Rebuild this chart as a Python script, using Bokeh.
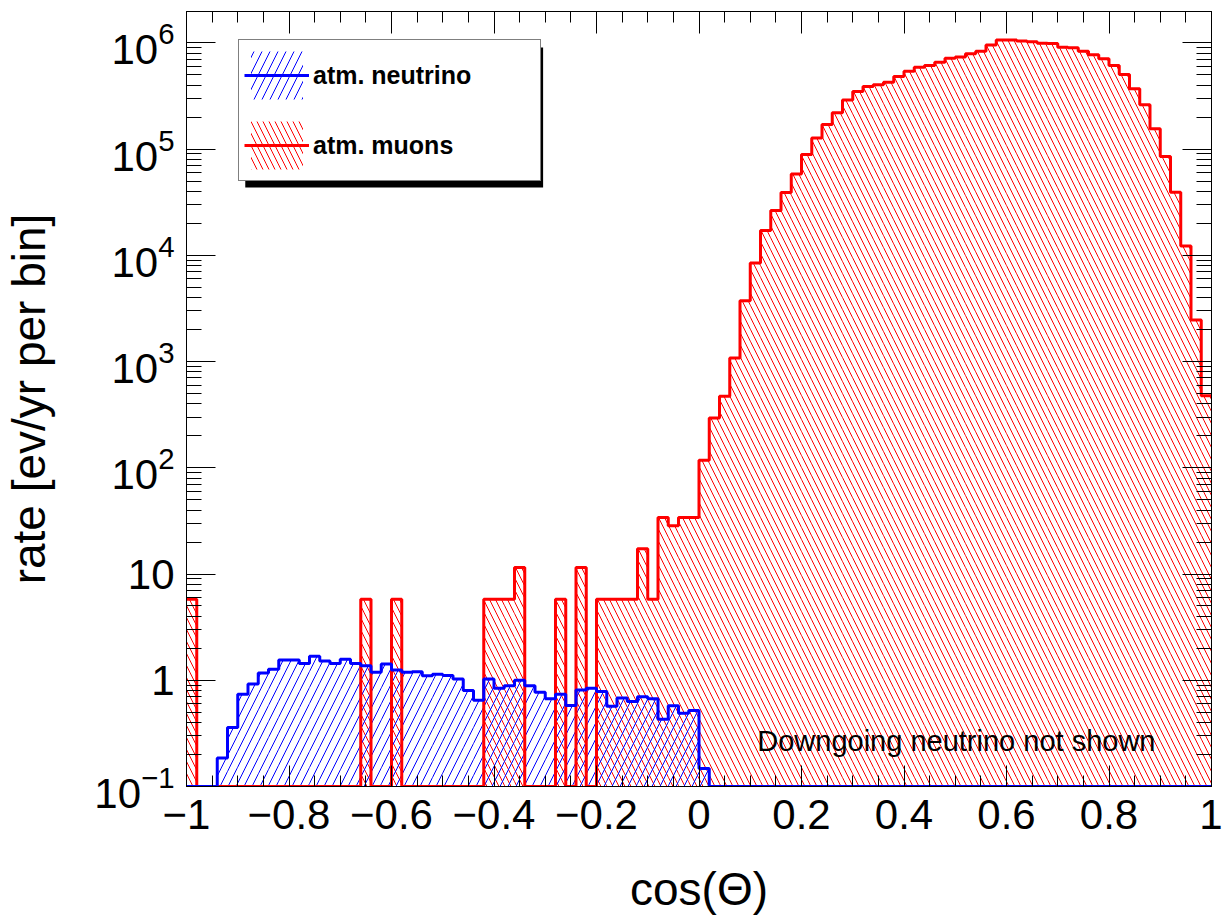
import numpy as np
from bokeh.plotting import figure
from bokeh.models import (Range1d, FixedTicker, LinearAxis, LogAxis, LogTickFormatter,
                          CustomJSTickFormatter, Legend, LegendItem, BoxAnnotation, Label,
                          ColumnDataSource)
from bokeh.embed import file_html
from bokeh.resources import INLINE

# ---------------- data ----------------
bin_low, bin_high, n_bins = -1.0, 1.0, 100

# atm. muons rate per bin (0.02 wide bins from -1 to 1)
muon_rate = [
    5.8, 0, 0, 0, 0, 0, 0, 0, 0, 0,
    0, 0, 0, 0, 0, 0, 0, 5.8, 0, 0,
    5.8, 0, 0, 0, 0, 0, 0, 0, 0, 5.8,
    5.8, 5.8, 11.5, 0, 0, 0, 5.8, 0, 11.5, 0,
    5.8, 5.8, 5.8, 5.8, 17.3, 5.8, 34, 28.5, 34, 34,
    118, 294, 470, 1080, 3740, 8480, 17100, 26400, 38900, 58300,
    88800, 127000, 170000, 219000, 290000, 348000, 387000, 402000, 425000, 481000,
    540000, 589000, 611000, 656000, 716000, 735000, 787000, 832000, 955000, 1060000,
    1060000, 1040000, 1020000, 990000, 985000, 908000, 900000, 832000, 771000, 708000,
    611000, 503000, 369000, 261000, 155000, 84900, 39200, 12200, 2460, 477,
]

# atm. neutrino rate per bin (downgoing not shown)
nu_rate = [
    0, 0, 0, 0.185, 0.36, 0.74, 0.92, 1.17, 1.27, 1.55,
    1.55, 1.44, 1.68, 1.52, 1.44, 1.58, 1.44, 1.37, 1.19, 1.42,
    1.25, 1.19, 1.20, 1.10, 1.14, 1.11, 1.03, 0.80, 0.65, 1.03,
    0.84, 0.89, 1.00, 0.89, 0.77, 0.67, 0.74, 0.58, 0.81, 0.84,
    0.785, 0.57, 0.68, 0.63, 0.70, 0.67, 0.43, 0.575, 0.49, 0.52,
    0.148, 0, 0, 0, 0, 0, 0, 0, 0, 0,
    0, 0, 0, 0, 0, 0, 0, 0, 0, 0,
    0, 0, 0, 0, 0, 0, 0, 0, 0, 0,
    0, 0, 0, 0, 0, 0, 0, 0, 0, 0,
    0, 0, 0, 0, 0, 0, 0, 0, 0, 0,
]

x_ticks = [-1, -0.8, -0.6, -0.4, -0.2, 0, 0.2, 0.4, 0.6, 0.8, 1]
x_tick_labels = ["\u22121", "\u22120.8", "\u22120.6", "\u22120.4", "\u22120.2", "0",
                 "0.2", "0.4", "0.6", "0.8", "1"]
y_ticks = [0.1, 1, 10, 100, 1000, 10000, 100000, 1000000]
y_plain_labels = {1: "1", 10: "10"}

legend_labels = ["atm. neutrino", "atm. muons"]
note_text = "Downgoing neutrino not shown"
x_title = "cos(\u0398)"
y_title = "rate [ev/yr per bin]"

# ---------------- layout ----------------
W, H = 1222, 920
FL, FR, FT, FB = 182, 1211, 11, 786
Y_MIN, Y_MAX = 0.1, 1.97e6
FONT = "Liberation Sans"


def data_x(px):
    return bin_low + (px - FL) / (FR - FL) * (bin_high - bin_low)


def data_y(py):
    lo, hi = np.log10(Y_MIN), np.log10(Y_MAX)
    return 10 ** (lo + (FB - py) / (FB - FT) * (hi - lo))


edges = np.linspace(bin_low, bin_high, n_bins + 1)
mu = np.array(muon_rate, dtype=float)
nu = np.array(nu_rate, dtype=float)
mu_disp = np.where(mu > 0, mu, Y_MIN)
nu_disp = np.where(nu > 0, nu, Y_MIN)

p = figure(width=W, height=H, x_range=Range1d(bin_low, bin_high),
           y_range=Range1d(Y_MIN, Y_MAX), y_axis_type="log",
           output_backend="svg", toolbar_location=None,
           min_border_left=FL, min_border_right=W - FR,
           min_border_top=FT, min_border_bottom=H - FB)
p.grid.visible = False
p.outline_line_color = "black"
p.outline_line_width = 1
p.background_fill_color = "white"
p.border_fill_color = "white"

# hatched areas
src_mu = ColumnDataSource(dict(left=edges[:-1], right=edges[1:], top=mu_disp,
                               bottom=np.full(n_bins, Y_MIN)))
src_nu = ColumnDataSource(dict(left=edges[:-1], right=edges[1:], top=nu_disp,
                               bottom=np.full(n_bins, Y_MIN)))
r_mu_fill = p.quad(left="left", right="right", top="top", bottom="bottom", source=src_mu,
                   fill_color=None, line_color=None, hatch_pattern="\\",
                   hatch_color="#ff0000", hatch_scale=12, hatch_weight=1)
r_nu_fill = p.quad(left="left", right="right", top="top", bottom="bottom", source=src_nu,
                   fill_color=None, line_color=None, hatch_pattern="/",
                   hatch_color="#0000ff", hatch_scale=16, hatch_weight=1)

# outlines
step_x = edges
r_mu_line = p.step(x=step_x, y=np.append(mu_disp, mu_disp[-1]), mode="after",
                   line_color="#ff0000", line_width=3)
r_nu_line = p.step(x=step_x, y=np.append(nu_disp, nu_disp[-1]), mode="after",
                   line_color="#0000ff", line_width=3)

# axes
x_minor = np.round(np.arange(bin_low, bin_high + 1e-9, 0.05), 3).tolist()
y_minor = [m * 10.0 ** k for k in range(-1, 7) for m in range(2, 10)]

xa = p.xaxis[0]
xa.ticker = FixedTicker(ticks=x_ticks, minor_ticks=x_minor)
xa.major_label_overrides = dict(zip(x_ticks, x_tick_labels))
xa.major_tick_in, xa.major_tick_out = 21, 0
xa.minor_tick_in, xa.minor_tick_out = 11, 0
xa.major_label_standoff = 13
xa.major_label_text_font = FONT
xa.major_label_text_font_size = "42px"
xa.major_label_text_color = "black"
xa.axis_label = x_title
xa.axis_label_text_font = FONT
xa.axis_label_text_font_size = "46px"
xa.axis_label_text_font_style = "normal"
xa.axis_label_text_color = "black"
xa.axis_label_standoff = 31
xa.axis_line_color = "black"
xa.major_tick_line_color = "black"
xa.minor_tick_line_color = "black"

ya = p.yaxis[0]
ya.ticker = FixedTicker(ticks=y_ticks, minor_ticks=y_minor)
ya.formatter = LogTickFormatter()
ya.major_label_overrides = y_plain_labels
ya.major_tick_in, ya.major_tick_out = 29, 0
ya.minor_tick_in, ya.minor_tick_out = 15, 0
ya.major_label_standoff = 12
ya.major_label_text_font = FONT
ya.major_label_text_font_size = "42px"
ya.major_label_text_color = "black"
ya.axis_label = y_title
ya.axis_label_text_font = FONT
ya.axis_label_text_font_size = "46px"
ya.axis_label_text_font_style = "normal"
ya.axis_label_text_color = "black"
ya.axis_label_standoff = 36
ya.axis_line_color = "black"
ya.major_tick_line_color = "black"
ya.minor_tick_line_color = "black"

blank = CustomJSTickFormatter(code="return ''")
top_axis = LinearAxis(ticker=FixedTicker(ticks=x_ticks, minor_ticks=x_minor), formatter=blank,
                      major_tick_in=22, major_tick_out=0, minor_tick_in=11, minor_tick_out=0,
                      major_label_standoff=0, axis_line_color="black",
                      major_tick_line_color="black", minor_tick_line_color="black")
p.add_layout(top_axis, "above")
right_axis = LogAxis(ticker=FixedTicker(ticks=y_ticks, minor_ticks=y_minor), formatter=blank,
                     major_tick_in=29, major_tick_out=0, minor_tick_in=15, minor_tick_out=0,
                     major_label_standoff=0, axis_line_color="black",
                     major_tick_line_color="black", minor_tick_line_color="black")
p.add_layout(right_axis, "right")

# legend shadow + legend
shadow = BoxAnnotation(left=data_x(241), right=data_x(540), top=data_y(47), bottom=data_y(187),
                       fill_color="black", fill_alpha=1, line_color=None)
p.add_layout(shadow)

legend = Legend(items=[LegendItem(label=legend_labels[0], renderers=[r_nu_fill, r_nu_line]),
                       LegendItem(label=legend_labels[1], renderers=[r_mu_fill, r_mu_line])],
                location=(234 - FL, FB - 181), orientation="vertical",
                glyph_width=65, glyph_height=60, label_width=222, label_height=60,
                label_standoff=4, padding=5, spacing=10, margin=0,
                border_line_color="black", border_line_width=1,
                background_fill_color="white", background_fill_alpha=1,
                label_text_font=FONT, label_text_font_style="bold",
                label_text_font_size="25px", label_text_color="black")
p.add_layout(legend)

note = Label(x=data_x(755), y=data_y(740), text=note_text, text_font=FONT,
             text_font_size="29px", text_baseline="alphabetic", text_align="left",
             text_color="black")
p.add_layout(note)

open("out.html", "w").write(file_html(p, INLINE))
